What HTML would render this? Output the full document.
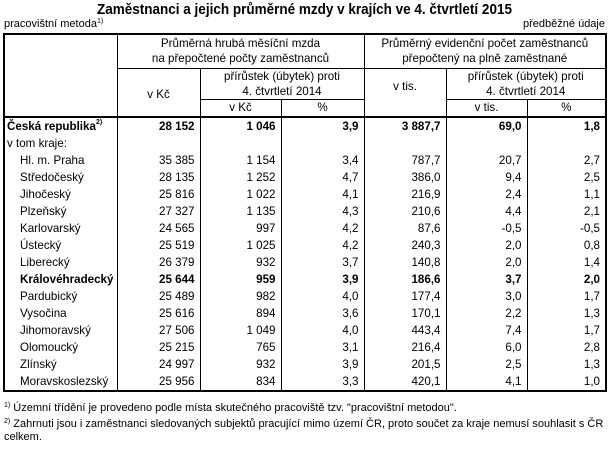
<!DOCTYPE html>
<html><head><meta charset="utf-8"><style>
body{margin:0;width:609px;height:449px;background:#fff;font-family:"Liberation Sans",Arial,sans-serif;font-size:11.6px;color:#000;position:relative;overflow:hidden}
.t{position:absolute;left:0;width:609px;top:1px;text-align:center;font-weight:bold;font-size:15px;transform:scaleX(0.9);transform-origin:center}
.a{position:absolute;top:18px;font-size:11px}
table{position:absolute;left:3px;top:33px;border-collapse:collapse;table-layout:fixed;border:2px solid #000}
td{padding:0;border-left:1px solid #000;border-right:1px solid #000;line-height:15px;white-space:nowrap}
.h td{text-align:center;border:1px solid #000}
.h3 td{border-bottom:2px solid #000}
.b td{height:17px;text-align:right;padding-right:5px}
.b td:first-child{text-align:left;padding-left:15px;padding-right:0}
.b.l td:first-child{padding-left:2px}
.bo td{font-weight:bold}
sup{font-size:7px;vertical-align:top;line-height:8px}
.f{position:absolute;left:4px;font-size:11px;line-height:13px}
</style></head><body>
<div class="t">Zaměstnanci a jejich průměrné mzdy v krajích ve 4. čtvrtletí 2015</div>
<div class="a" style="left:4px">pracovištní metoda<sup>1)</sup></div>
<div class="a" style="right:4px">předběžné údaje</div>
<table>
<colgroup><col style="width:113px"><col style="width:83px"><col style="width:81px"><col style="width:83px"><col style="width:82px"><col style="width:81px"><col style="width:79px"></colgroup>
<tr class="h" style="height:34px"><td rowspan="3" style="border-bottom:2px solid #000"></td><td colspan="3">Průměrná hrubá měsíční mzda<br>na přepočtené počty zaměstnanců</td><td colspan="3">Průměrný evidenční počet zaměstnanců<br>přepočtený na plně zaměstnané</td></tr>
<tr class="h" style="height:30px"><td rowspan="2" style="border-bottom:2px solid #000;padding-top:4px">v Kč</td><td colspan="2">přírůstek (úbytek) proti<br>4. čtvrtletí 2014</td><td rowspan="2" style="border-bottom:2px solid #000;vertical-align:top;padding-top:10px">v tis.</td><td colspan="2">přírůstek (úbytek) proti<br>4. čtvrtletí 2014</td></tr>
<tr class="h h3" style="height:18px"><td>v Kč</td><td>%</td><td>v tis.</td><td>%</td></tr>
<tr class="b l bo"><td>Česká republika<sup>2)</sup></td><td>28 152</td><td>1 046</td><td>3,9</td><td>3 887,7</td><td>69,0</td><td>1,8</td></tr>
<tr class="b l"><td>v tom kraje:</td><td></td><td></td><td></td><td></td><td></td><td></td></tr>
<tr class="b"><td>Hl. m. Praha</td><td>35 385</td><td>1 154</td><td>3,4</td><td>787,7</td><td>20,7</td><td>2,7</td></tr>
<tr class="b"><td>Středočeský</td><td>28 135</td><td>1 252</td><td>4,7</td><td>386,0</td><td>9,4</td><td>2,5</td></tr>
<tr class="b"><td>Jihočeský</td><td>25 816</td><td>1 022</td><td>4,1</td><td>216,9</td><td>2,4</td><td>1,1</td></tr>
<tr class="b"><td>Plzeňský</td><td>27 327</td><td>1 135</td><td>4,3</td><td>210,6</td><td>4,4</td><td>2,1</td></tr>
<tr class="b"><td>Karlovarský</td><td>24 565</td><td>997</td><td>4,2</td><td>87,6</td><td>-0,5</td><td>-0,5</td></tr>
<tr class="b"><td>Ústecký</td><td>25 519</td><td>1 025</td><td>4,2</td><td>240,3</td><td>2,0</td><td>0,8</td></tr>
<tr class="b"><td>Liberecký</td><td>26 379</td><td>932</td><td>3,7</td><td>140,8</td><td>2,0</td><td>1,4</td></tr>
<tr class="b bo"><td>Královéhradecký</td><td>25 644</td><td>959</td><td>3,9</td><td>186,6</td><td>3,7</td><td>2,0</td></tr>
<tr class="b"><td>Pardubický</td><td>25 489</td><td>982</td><td>4,0</td><td>177,4</td><td>3,0</td><td>1,7</td></tr>
<tr class="b"><td>Vysočina</td><td>25 616</td><td>894</td><td>3,6</td><td>170,1</td><td>2,2</td><td>1,3</td></tr>
<tr class="b"><td>Jihomoravský</td><td>27 506</td><td>1 049</td><td>4,0</td><td>443,4</td><td>7,4</td><td>1,7</td></tr>
<tr class="b"><td>Olomoucký</td><td>25 215</td><td>765</td><td>3,1</td><td>216,4</td><td>6,0</td><td>2,8</td></tr>
<tr class="b"><td>Zlínský</td><td>24 997</td><td>932</td><td>3,9</td><td>201,5</td><td>2,5</td><td>1,3</td></tr>
<tr class="b"><td>Moravskoslezský</td><td>25 956</td><td>834</td><td>3,3</td><td>420,1</td><td>4,1</td><td>1,0</td></tr>
</table>
<div class="f" style="top:402px"><sup>1)</sup> Územní třídění je provedeno podle místa skutečného pracoviště tzv. "pracovištní metodou".</div>
<div class="f" style="top:418px"><sup>2)</sup> Zahrnuti jsou i zaměstnanci sledovaných subjektů pracující mimo území ČR, proto součet za kraje nemusí souhlasit s ČR<br>celkem.</div>
</body></html>
